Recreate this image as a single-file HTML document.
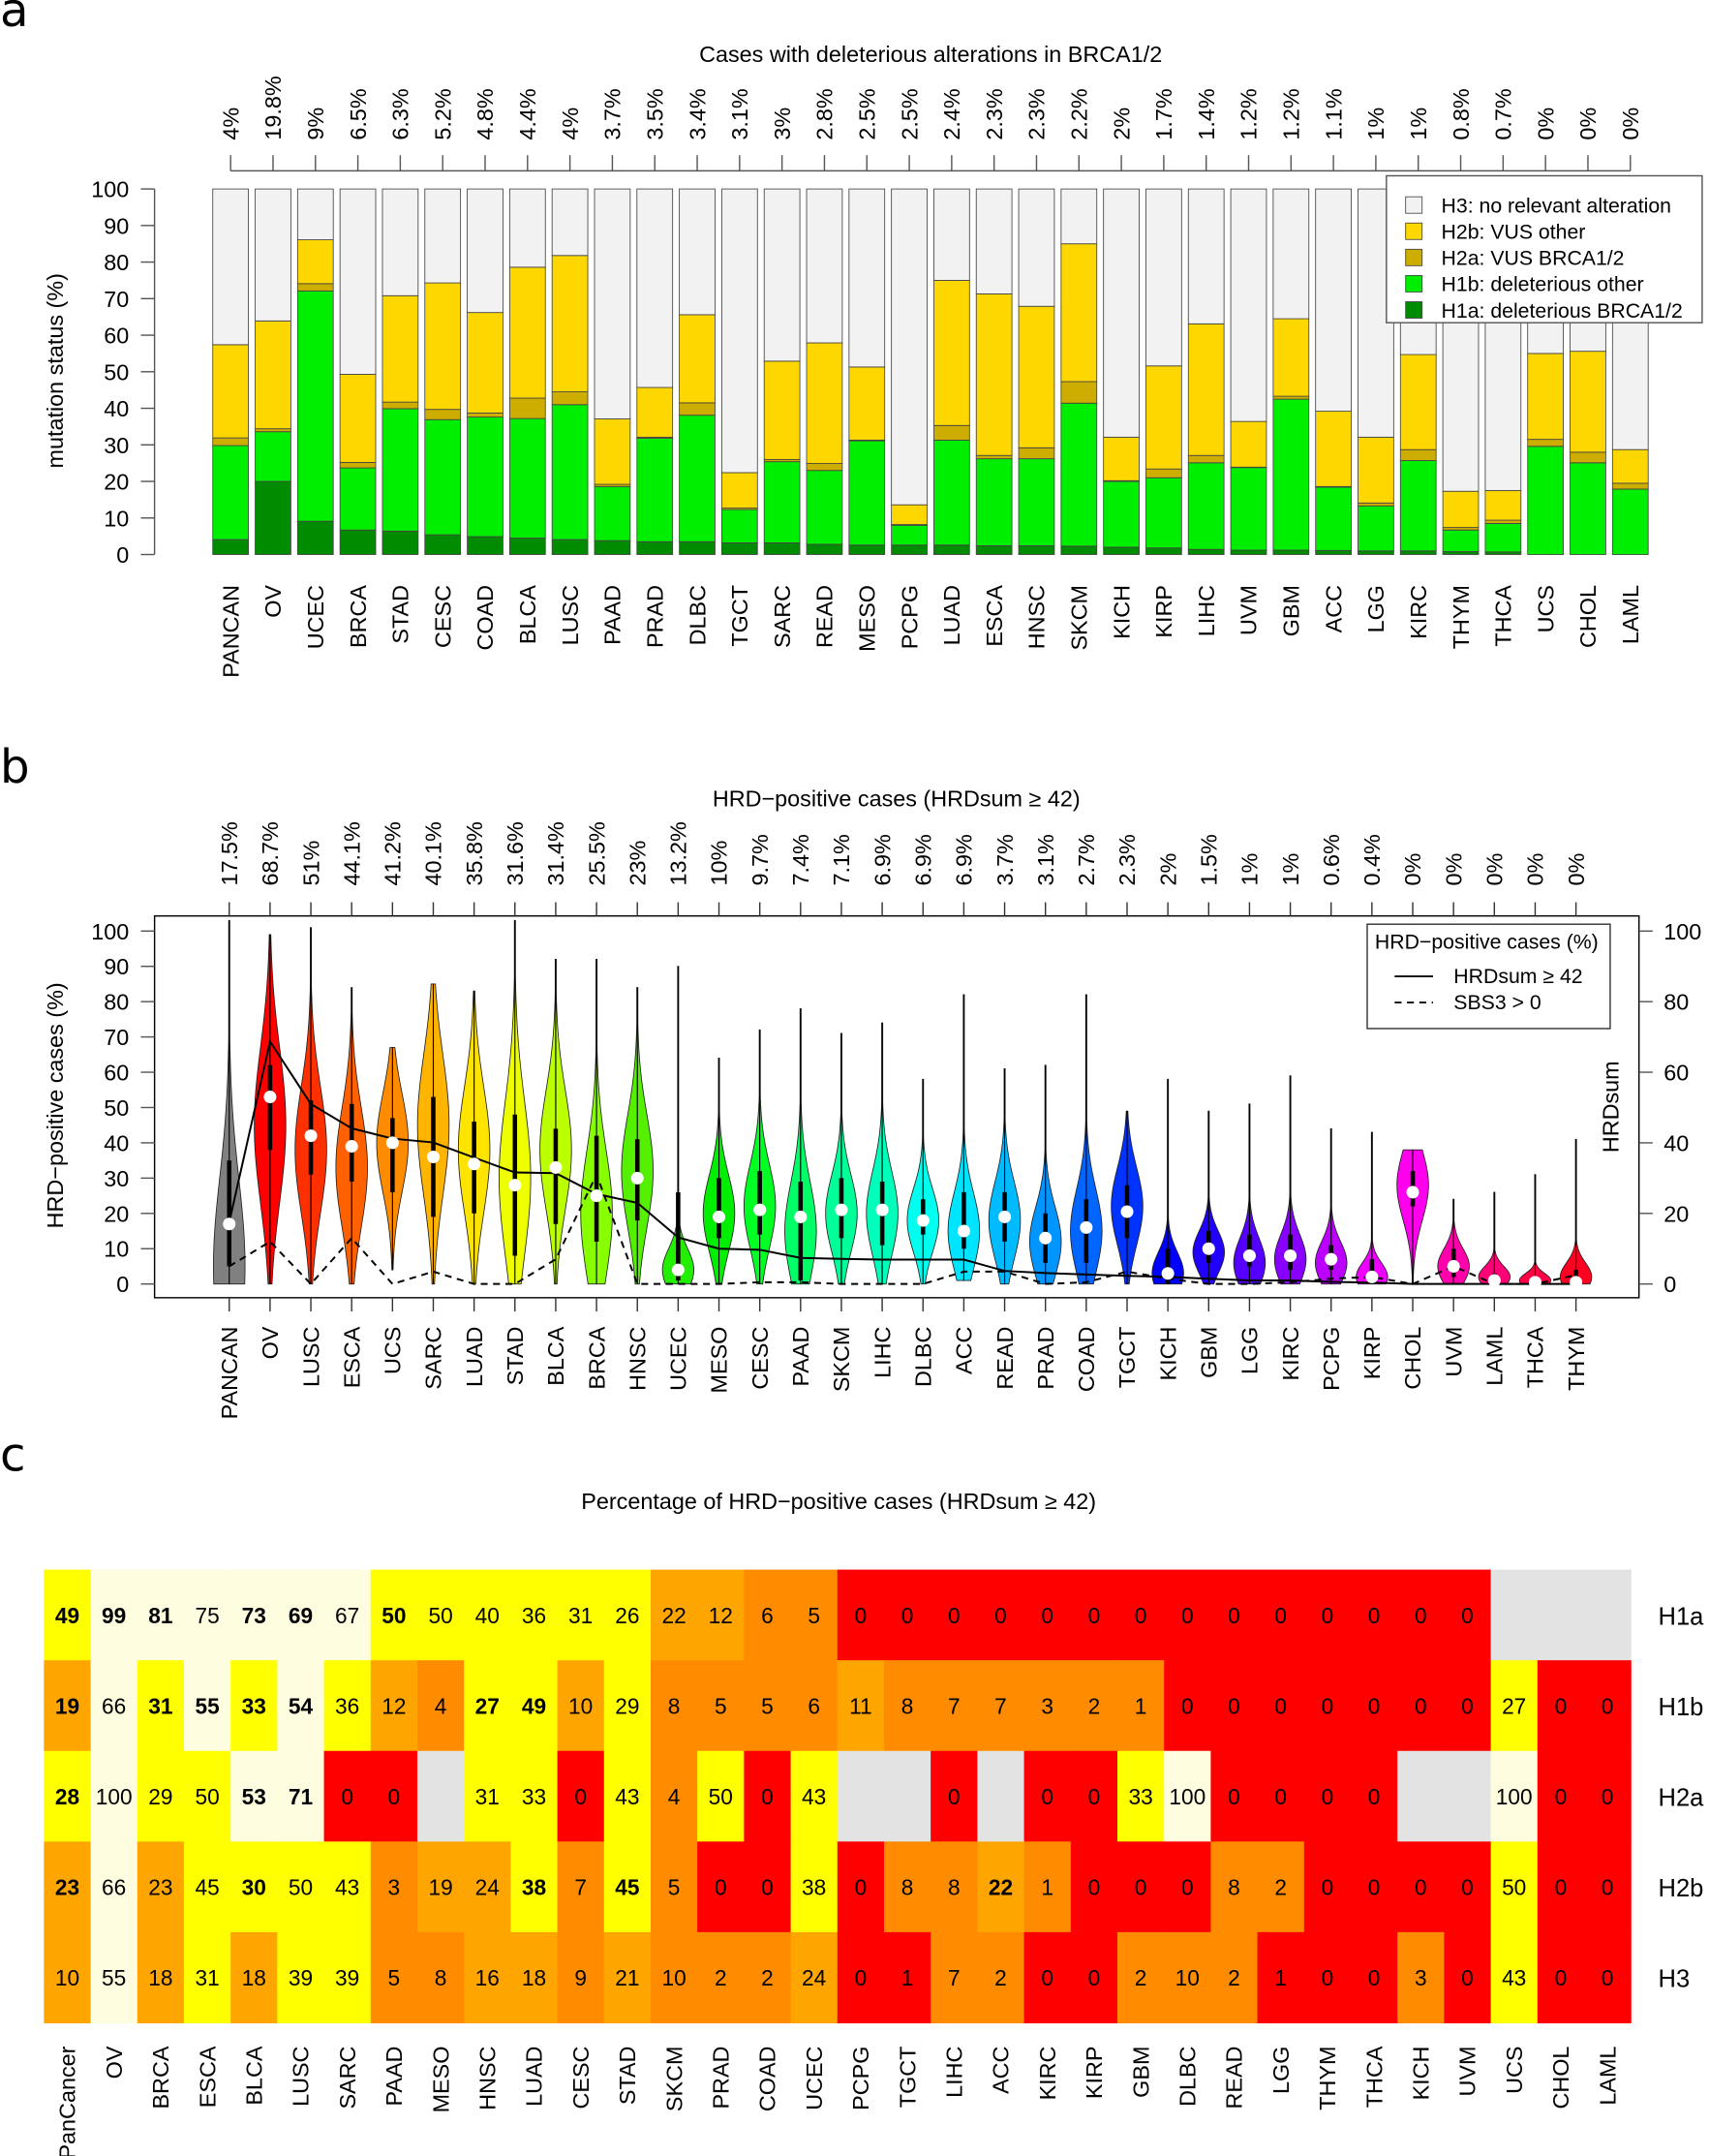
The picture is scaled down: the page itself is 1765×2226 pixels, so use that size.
<!DOCTYPE html>
<html><head><meta charset="utf-8"><style>
html,body{margin:0;padding:0;background:#fff;}
svg{display:block;font-family:"Liberation Sans",sans-serif;}
</style></head><body>
<svg id="fig" xmlns="http://www.w3.org/2000/svg" width="1765" height="2226" viewBox="0 0 1245 1570" preserveAspectRatio="none">
<text x="0" y="19" font-family="DejaVu Sans,sans-serif" font-size="34">a</text>
<text x="0" y="570" font-family="DejaVu Sans,sans-serif" font-size="34">b</text>
<text x="0" y="1071" font-family="DejaVu Sans,sans-serif" font-size="34">c</text>
<text x="678" y="45" text-anchor="middle" font-size="16.5">Cases with deleterious alterations in BRCA1/2</text>
<text x="653" y="587" text-anchor="middle" font-size="16.5">HRD−positive cases (HRDsum  ≥ 42)</text>
<text x="611" y="1099" text-anchor="middle" font-size="16.5">Percentage of HRD−positive cases (HRDsum  ≥ 42)</text>
<g id="ga"></g>
<g id="gb"></g>
<g id="gc"></g>
</svg>
<script>
// ---------- Panel A data ----------
const catsA = ["PANCAN","OV","UCEC","BRCA","STAD","CESC","COAD","BLCA","LUSC","PAAD","PRAD","DLBC","TGCT","SARC","READ","MESO","PCPG","LUAD","ESCA","HNSC","SKCM","KICH","KIRP","LIHC","UVM","GBM","ACC","LGG","KIRC","THYM","THCA","UCS","CHOL","LAML"];
const pctLabelsA = ["4%","19.8%","9%","6.5%","6.3%","5.2%","4.8%","4.4%","4%","3.7%","3.5%","3.4%","3.1%","3%","2.8%","2.5%","2.5%","2.4%","2.3%","2.3%","2.2%","2%","1.7%","1.4%","1.2%","1.2%","1.1%","1%","1%","0.8%","0.7%","0%","0%","0%"];
const topH1a = [4.1,20,9.1,6.7,6.4,5.4,4.9,4.5,4.1,3.8,3.5,3.5,3.2,3.2,2.8,2.6,2.6,2.6,2.4,2.4,2.3,2.0,1.8,1.4,1.2,1.2,1.1,1.0,1.0,0.8,0.7,0,0,0];
const topH1b = [29.8,33.6,72.1,23.7,39.9,36.9,37.6,37.2,41,18.6,31.8,38.1,12.3,25.4,23,31.1,8,31.3,26.2,26.2,41.4,20,21,25.1,23.8,42.5,18.4,13.3,25.7,6.7,8.5,29.6,25.1,17.9];
const topH2a = [31.9,34.4,74.1,25.2,41.7,39.7,38.7,42.8,44.5,19.2,32.1,41.5,12.7,26,24.9,31.3,8.2,35.3,27.1,29.2,47.3,20.2,23.4,27.1,23.9,43.3,18.6,14.1,28.7,7.4,9.4,31.5,28,19.5];
const topH2b = [57.4,63.9,86.1,49.3,70.8,74.3,66.2,78.6,81.8,37.1,45.7,65.6,22.4,52.9,57.9,51.3,13.6,75,71.3,67.9,85,32.1,51.6,63.1,36.4,64.5,39.2,32.1,54.7,17.3,17.5,55,55.6,28.7];
const ticksA = [0,10,20,30,40,50,60,70,80,90,100];

// ---------- Panel B data ----------
const catsB = ["PANCAN","OV","LUSC","ESCA","UCS","SARC","LUAD","STAD","BLCA","BRCA","HNSC","UCEC","MESO","CESC","PAAD","SKCM","LIHC","DLBC","ACC","READ","PRAD","COAD","TGCT","KICH","GBM","LGG","KIRC","PCPG","KIRP","CHOL","UVM","LAML","THCA","THYM"];
const hrdPct = [17.5,68.7,51,44.1,41.2,40.1,35.8,31.6,31.4,25.5,23,13.2,10,9.7,7.4,7.1,6.9,6.9,6.9,3.7,3.1,2.7,2.3,2,1.5,1,1,0.6,0.4,0,0,0,0,0];
const sbs3Pct = [5,12,0,13,0,3.5,0,0,7,31,0,0,0,0.5,0.5,0,0,0,3.5,3.5,0,0.5,3.5,1.5,0,0,0.5,1.5,2,0,5,0,0,2.5];
const medB = [17,53,42,39,40,36,34,28,33,25,30,4,19,21,19,21,21,18,15,19,13,16,20.5,3,10,8,8,7,2,26,5,1,0.5,0.5];
const q1B = [5,38,31,29,26,19,20,8,17,12,18,1,13,14,1,13,11,14,10,12,6,6,13,0,6,5,4,4,0,22,2,0,0,0];
const q3B = [35,62,52,51,47,53,46,48,44,42,41,26,30,32,29,30,29,24,26,26,20,24,28,10,15,14,14,11,7,32,10,3,1,4];
const minB = [0,0,0,0,4,0,0,0,0,0,0,0,0,0,0,0,0,0,1,0,0,0,0,0,0,0,0,0,0,0,0,0,0,0];
const maxB = [103,99,101,84,67,85,83,103,92,92,84,90,64,72,78,71,74,58,82,61,62,82,49,58,49,51,59,44,43,38,24,26,31,41];
const modeB = [5,45,38,33,40,45,38,30,38,20,32,4,20,22,15,20,20,18,15,18,12,15,22,3,9,6,7,6,2,28,5,2,1,2];
const sdB = [25,22,18,17,14,20,18,22,17,18,16,6,11,12,14,11,12,9,11,11,10,12,11,6,6,7,7,6,4,10,5,3,2,4];
const colB = ["#808080","#ff0000","#ff3000","#ff6000","#ff8c00","#ffb400","#ffe400","#eeff00","#bbff00","#88ff00","#55f000","#22ee00","#00ee00","#00ff22","#00ff66","#00ff99","#00ffbb","#00ffee","#00e5ff","#00bbff","#0095ff","#0066ff","#0033ff","#0000ff","#2200ff","#5500ff","#8800ff","#bb00ff","#ee00ff","#ff00ee","#ff00aa","#ff0077","#ff0044","#ff0022"];
const ticksBL = [0,10,20,30,40,50,60,70,80,90,100];
const ticksBR = [0,20,40,60,80,100];

// ---------- Panel C data ----------
const catsC = ["PanCancer","OV","BRCA","ESCA","BLCA","LUSC","SARC","PAAD","MESO","HNSC","LUAD","CESC","STAD","SKCM","PRAD","COAD","UCEC","PCPG","TGCT","LIHC","ACC","KIRC","KIRP","GBM","DLBC","READ","LGG","THYM","THCA","KICH","UVM","UCS","CHOL","LAML"];
const rowsC = ["H1a","H1b","H2a","H2b","H3"];
const N = null;
const valH1a = [49,99,81,75,73,69,67,50,50,40,36,31,26,22,12,6,5,0,0,0,0,0,0,0,0,0,0,0,0,0,0,N,N,N];
const valH1b = [19,66,31,55,33,54,36,12,4,27,49,10,29,8,5,5,6,11,8,7,7,3,2,1,0,0,0,0,0,0,0,27,0,0];
const valH2a = [28,100,29,50,53,71,0,0,N,31,33,0,43,4,50,0,43,N,N,0,N,0,0,33,100,0,0,0,0,N,N,100,0,0];
const valH2b = [23,66,23,45,30,50,43,3,19,24,38,7,45,5,0,0,38,0,8,8,22,1,0,0,0,8,2,0,0,0,0,50,0,0];
const valH3 = [10.2,55,18,31,18,39,39,5,8,16,18,9,21,9.6,2,2,24,0,0.6,7,2,0,0,2,9.6,2,0.6,0,0,3,0,43,0,0];
const boldH1a = ["PanCancer","OV","BRCA","BLCA","LUSC","PAAD"];
const boldH1b = ["PanCancer","BRCA","ESCA","BLCA","LUSC","HNSC","LUAD"];
const boldH2a = ["PanCancer","BLCA","LUSC"];
const boldH2b = ["PanCancer","BLCA","LUAD","STAD","ACC"];
const boldH3 = [];

const NS="http://www.w3.org/2000/svg";
function mk(parent,tag,attrs,txt){const e=document.createElementNS(NS,tag);for(const k in attrs)e.setAttribute(k,attrs[k]);if(txt!==undefined)e.textContent=txt;parent.appendChild(e);return e;}

// ================= Panel A =================
(function(){
const g=document.getElementById('ga');
const xA=i=>168+i*30.9;
const yA=v=>403.8-v*2.662;
const BW=26;
// top axis
let e=mk(g,'line',{x1:xA(0),x2:xA(catsA.length-1),y1:124.4,y2:124.4,stroke:'#555','stroke-width':1});


catsA.forEach((c,i)=>{
  let t=mk(g,'line',{x1:xA(i),x2:xA(i),y1:113,y2:124.4,stroke:'#555','stroke-width':1});
  
  
  let l=mk(g,'text',{transform:`translate(${xA(i)+5.8},102) rotate(-90)`,'font-size':16.5},pctLabelsA[i]);
  
  
  let cl=mk(g,'text',{transform:`translate(${xA(i)+5.8},426) rotate(-90)`,'font-size':16.5,'text-anchor':'end'},c);
  
  
  const segs=[[0,topH1a[i],'#008b00'],[topH1a[i],topH1b[i],'#00ee00'],[topH1b[i],topH2a[i],'#cdad00'],[topH2a[i],topH2b[i],'#ffd700'],[topH2b[i],100,'#f2f2f2']];
  const names=['bar-h1a','bar-h1b','bar-h2a','bar-h2b','bar-h3'];
  segs.forEach((s,k)=>{
    const h=yA(s[0])-yA(s[1]);
    let r=mk(g,'rect',{x:xA(i)-BW/2,y:yA(s[1]),width:BW,height:Math.max(h,0),fill:s[2],stroke:'#444','stroke-width':0.6});
    
    
  });
});
// left axis
e=mk(g,'line',{x1:112.6,x2:112.6,y1:yA(0),y2:yA(100),stroke:'#555','stroke-width':1});


ticksA.forEach(v=>{
  let t=mk(g,'line',{x1:102.6,x2:112.6,y1:yA(v),y2:yA(v),stroke:'#555','stroke-width':1});
  
  
  let l=mk(g,'text',{x:94,y:yA(v)+6,'font-size':16.5,'text-anchor':'end'},String(v));
  
  
});
e=mk(g,'text',{transform:'translate(46,270) rotate(-90)','font-size':16.5,'text-anchor':'middle'},'mutation status (%)');


// legend
const lg=mk(g,'g',{});


mk(lg,'rect',{x:1010,y:128,width:230,height:107,fill:'#fff',stroke:'#555','stroke-width':1});
const lgItems=[['H3: no relevant alteration','#f2f2f2'],['H2b: VUS other','#ffd700'],['H2a: VUS BRCA1/2','#cdad00'],['H1b: deleterious other','#00ee00'],['H1a: deleterious BRCA1/2','#008b00']];
const lgY=[149.3,168.4,187.5,206.6,225.7];
lgItems.forEach((it,k)=>{
  let r=mk(lg,'rect',{x:1024,y:lgY[k]-6,width:12,height:12,fill:it[1],stroke:'#444','stroke-width':0.6});
  
  
  let t=mk(lg,'text',{x:1050,y:lgY[k]+5.5,'font-size':15},it[0]);
  
  
});
})();

// ================= Panel B =================
(function(){
const g=document.getElementById('gb');
const xB=i=>167+i*29.73;
const yB=v=>935-v*2.57;
const HW=11.5;
let e=mk(g,'rect',{x:112.6,y:667,width:1194-112.6,height:945-667,fill:'none',stroke:'#000','stroke-width':1});


catsB.forEach((c,i)=>{
  const x=xB(i);
  let t=mk(g,'line',{x1:x,x2:x,y1:657,y2:667,stroke:'#333','stroke-width':1});
  
  
  t=mk(g,'line',{x1:x,x2:x,y1:945,y2:955,stroke:'#333','stroke-width':1});
  
  
  let l=mk(g,'text',{transform:`translate(${x+5.8},645) rotate(-90)`,'font-size':16.5},hrdPct[i]+'%');
  
  
  l=mk(g,'text',{transform:`translate(${x+5.8},966) rotate(-90)`,'font-size':16.5,'text-anchor':'end'},c);
  
  
  // violin
  const left=[],right=[];
  const lo=minB[i],hi=maxB[i];
  const steps=60;
  for(let s=0;s<=steps;s++){
    const v=lo+(hi-lo)*s/steps;
    let w=HW*Math.exp(-0.5*Math.pow((v-modeB[i])/sdB[i],2));
    if(w<0.4)w=0.4;
    right.push(`${(x+w).toFixed(2)},${yB(v).toFixed(2)}`);
    left.unshift(`${(x-w).toFixed(2)},${yB(v).toFixed(2)}`);
  }
  let p=mk(g,'polygon',{points:right.concat(left).join(' '),fill:colB[i],stroke:'#222','stroke-width':0.6});
  
  
  let wl=mk(g,'line',{x1:x,x2:x,y1:yB(lo),y2:yB(hi),stroke:'#000','stroke-width':0.8});
  
  
  let bx=mk(g,'rect',{x:x-1.6,y:yB(q3B[i]),width:3.2,height:yB(q1B[i])-yB(q3B[i]),fill:'#000'});
  
  
});
// lines
const solid=catsB.map((c,i)=>`${xB(i).toFixed(2)},${yB(hrdPct[i]).toFixed(2)}`).join(' ');
e=mk(g,'polyline',{points:solid,fill:'none',stroke:'#000','stroke-width':1.4});


const dash=catsB.map((c,i)=>`${xB(i).toFixed(2)},${yB(sbs3Pct[i]).toFixed(2)}`).join(' ');
e=mk(g,'polyline',{points:dash,fill:'none',stroke:'#000','stroke-width':1.4,'stroke-dasharray':'5,4'});


catsB.forEach((c,i)=>{
  let d=mk(g,'circle',{cx:xB(i),cy:yB(medB[i]),r:4.6,fill:'#fff'});
  
  
});
// axes
ticksBL.forEach(v=>{
  let t=mk(g,'line',{x1:102.6,x2:112.6,y1:yB(v),y2:yB(v),stroke:'#555','stroke-width':1});
  
  
  let l=mk(g,'text',{x:94,y:yB(v)+6,'font-size':16.5,'text-anchor':'end'},String(v));
  
  
});
ticksBR.forEach(v=>{
  let t=mk(g,'line',{x1:1194,x2:1204,y1:yB(v),y2:yB(v),stroke:'#555','stroke-width':1});
  
  
  let l=mk(g,'text',{x:1212,y:yB(v)+6,'font-size':16.5},String(v));
  
  
});
e=mk(g,'text',{transform:'translate(46,805) rotate(-90)','font-size':16.5,'text-anchor':'middle'},'HRD−positive cases (%)');


e=mk(g,'text',{transform:'translate(1179,806) rotate(-90)','font-size':16.5,'text-anchor':'middle'},'HRDsum');


// legend
const lg=mk(g,'g',{});


mk(lg,'rect',{x:996,y:673,width:177,height:76,fill:'#fff',stroke:'#333','stroke-width':1});
let t=mk(lg,'text',{x:1083,y:691,'font-size':15,'text-anchor':'middle'},'HRD−positive cases (%)');


let ln=mk(lg,'line',{x1:1016,x2:1044,y1:711,y2:711,stroke:'#000','stroke-width':1.3});


t=mk(lg,'text',{x:1059,y:716,'font-size':15},'HRDsum ≥ 42');


ln=mk(lg,'line',{x1:1016,x2:1044,y1:730,y2:730,stroke:'#000','stroke-width':1.3,'stroke-dasharray':'5,4'});


t=mk(lg,'text',{x:1059,y:735,'font-size':15},'SBS3 > 0');


})();

// ================= Panel C =================
(function(){
const g=document.getElementById('gc');
const xC=j=>32+j*34;
const yC=r=>1143+r*66;
const CW=34,CH=66;
const vals=[valH1a,valH1b,valH2a,valH2b,valH3];
const bolds=[boldH1a,boldH1b,boldH2a,boldH2b,boldH3];
function col(v){
  if(v===null)return '#e3e3e3';
  if(v<1)return '#ff0000';
  if(v<10)return '#ff8c00';
  if(v<25)return '#ffa500';
  if(v<=50)return '#ffff00';
  return '#fffddf';
}
rowsC.forEach((rn,r)=>{
  catsC.forEach((c,j)=>{
    const v=vals[r][j];
    let rc=mk(g,'rect',{x:xC(j),y:yC(r),width:CW+0.4,height:CH+0.4,fill:col(v)});
    
    
    if(v!==null){
      let tx=mk(g,'text',{x:xC(j)+CW/2,y:yC(r)+CH/2+6,'font-size':16,'text-anchor':'middle','font-weight':bolds[r].includes(c)?'bold':'normal'},String(Math.round(v)));
      
      
    }
  });
  let rl=mk(g,'text',{x:1208,y:yC(r)+CH/2+7,'font-size':18},rn);
  
  
});
catsC.forEach((c,j)=>{
  let l=mk(g,'text',{transform:`translate(${xC(j)+CW/2+5.8},1490) rotate(-90)`,'font-size':16.5,'text-anchor':'end'},c);
  
  
});
})();
</script>
</body></html>
